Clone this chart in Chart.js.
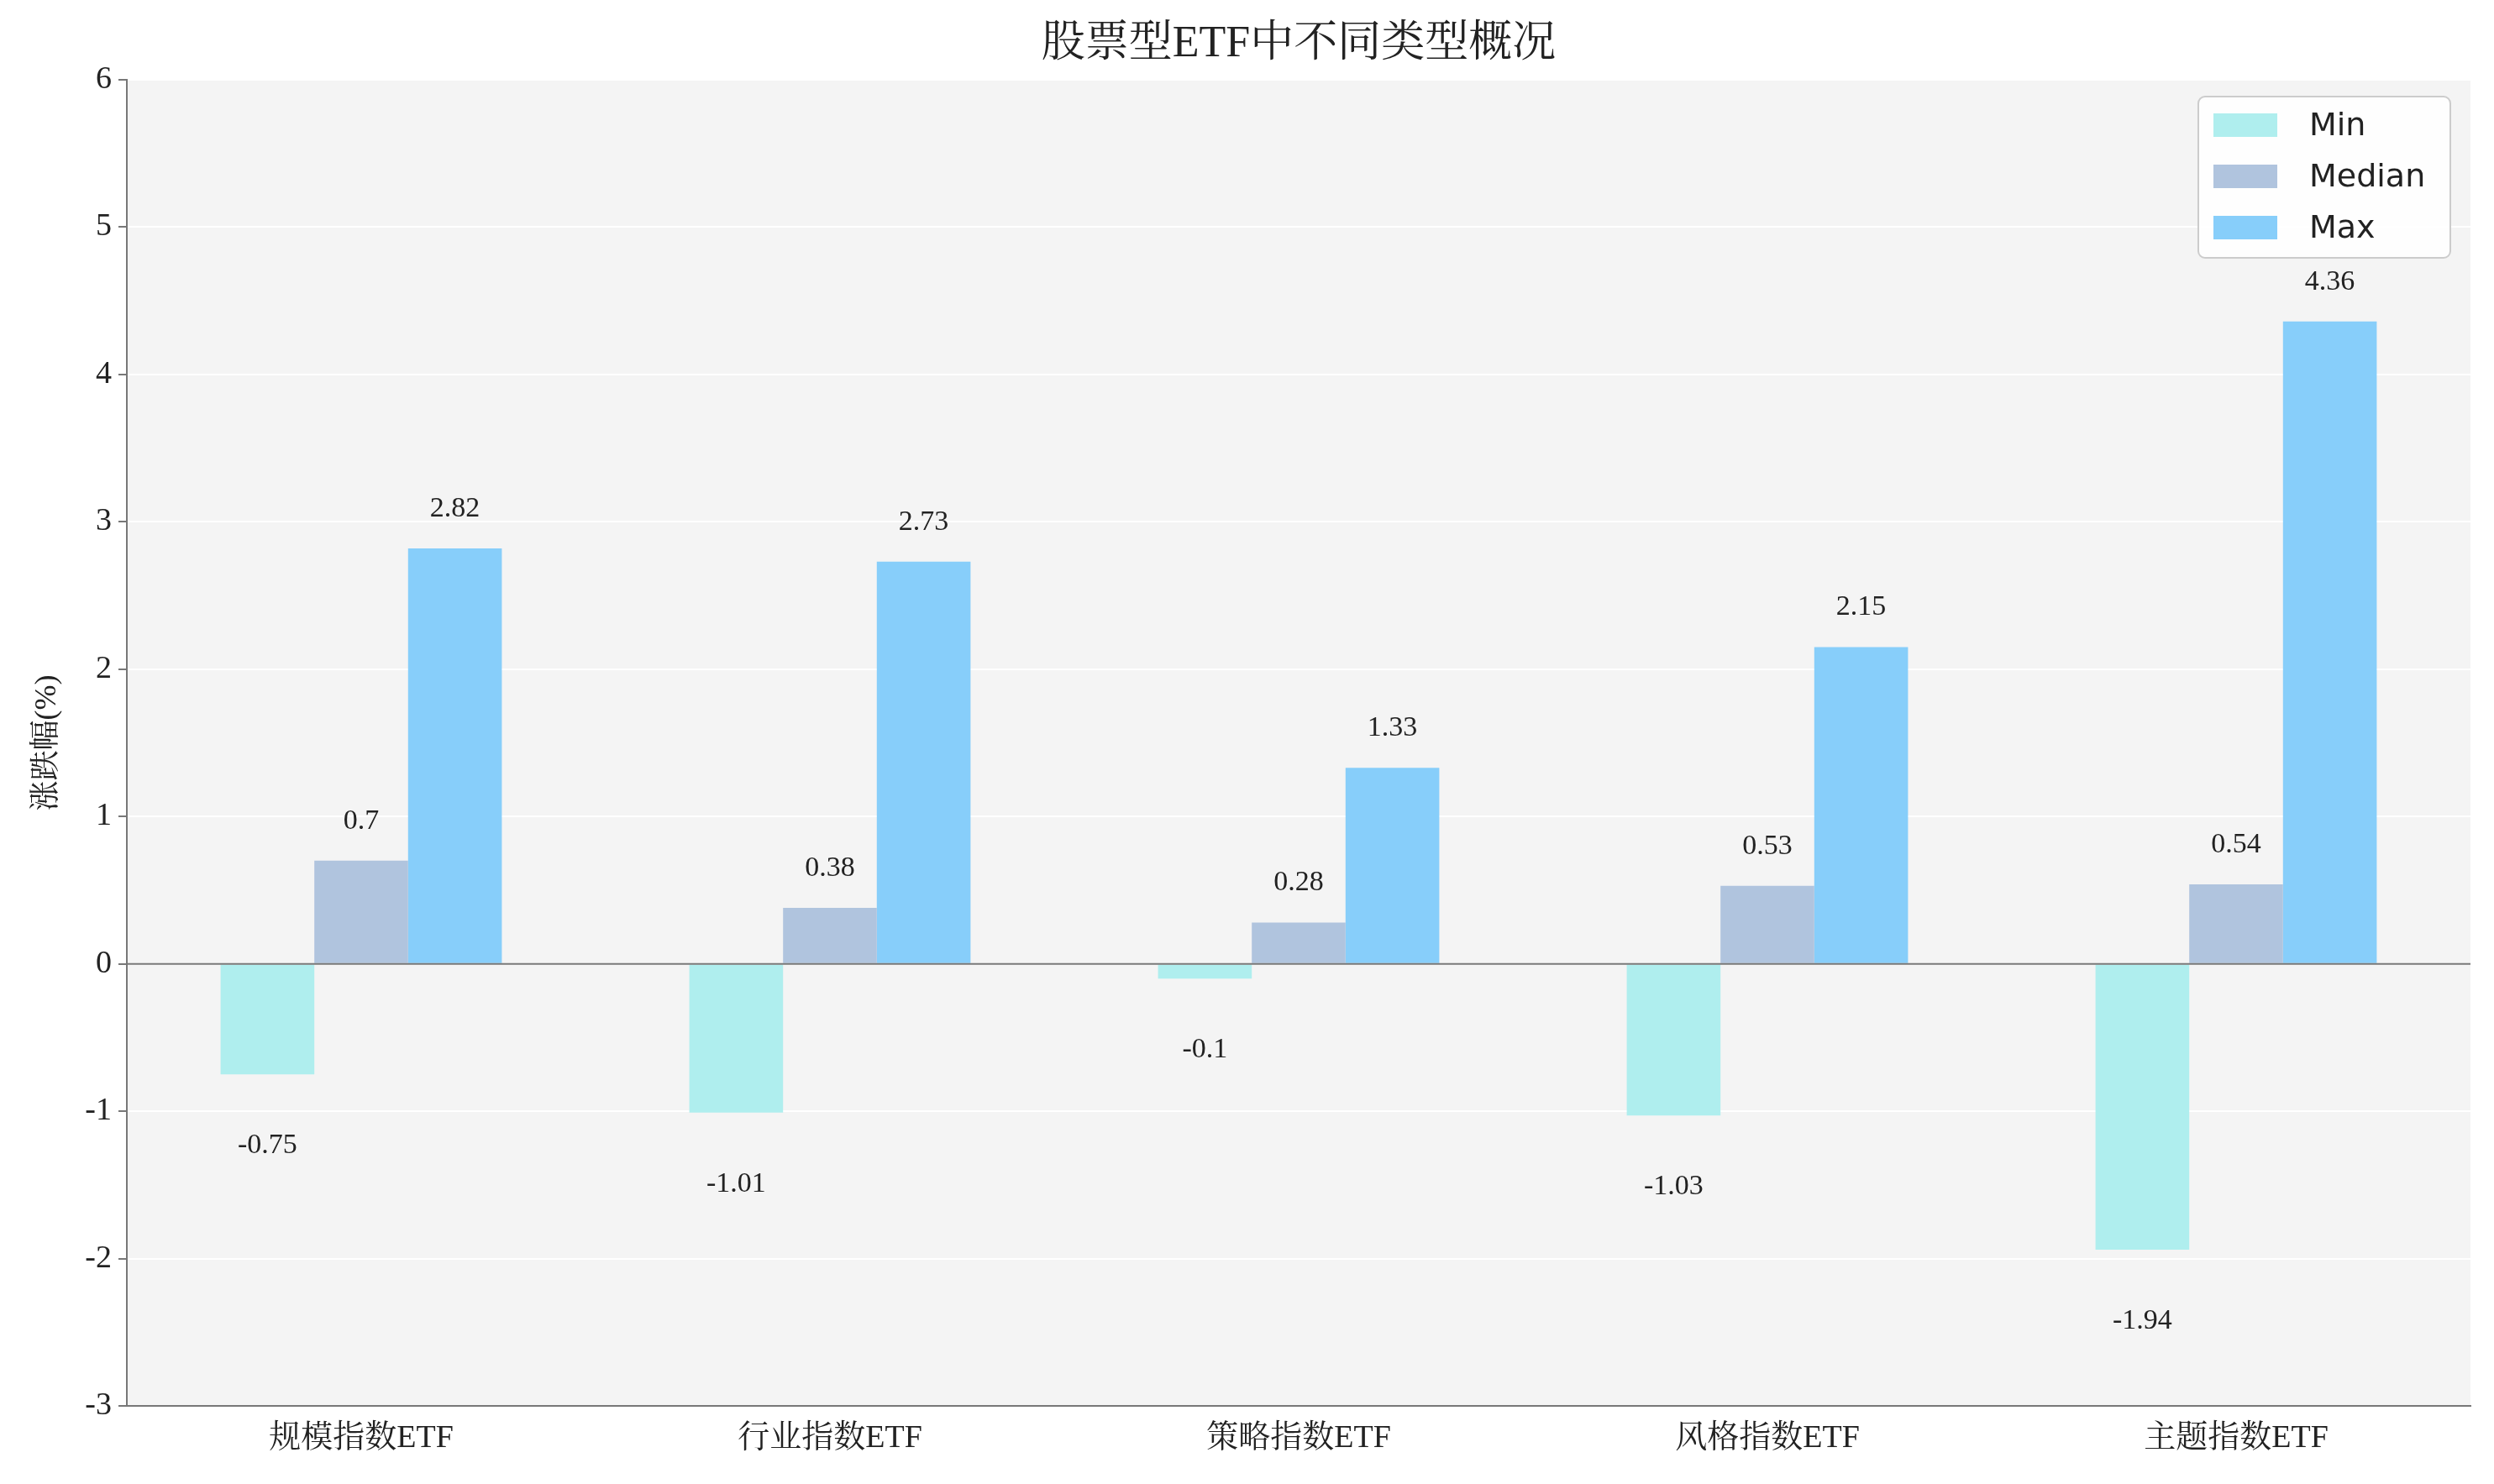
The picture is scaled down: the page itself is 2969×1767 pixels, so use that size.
<!DOCTYPE html>
<html><head><meta charset="utf-8">
<script src="https://cdn.jsdelivr.net/npm/chart.js@4"></script>
<style>body{margin:0;background:#fff}</style></head>
<body><canvas id="c" width="2969" height="1767"></canvas>
<script>
const categories=["规模指数ETF","行业指数ETF","策略指数ETF","风格指数ETF","主题指数ETF"];
const minVals=[-0.75,-1.01,-0.1,-1.03,-1.94];
const medianVals=[0.7,0.38,0.28,0.53,0.54];
const maxVals=[2.82,2.73,1.33,2.15,4.36];
const seriesNames=["Min","Median","Max"];
const colors=["#afeeee","#b0c4de","#87cefa"];
const FONT="'Liberation Serif','DejaVu Serif','Noto Serif CJK SC','Noto Sans CJK SC',serif";
const plug={id:'p',
beforeDraw(ch){const {ctx,chartArea:a}=ch;ctx.save();ctx.fillStyle='#fff';ctx.fillRect(0,0,ch.width,ch.height);ctx.fillStyle='#f4f4f4';ctx.fillRect(a.left,a.top,a.right-a.left,a.bottom-a.top);ctx.restore();},
afterDatasetsDraw(ch){const {ctx,chartArea:a,scales}=ch;ctx.save();
const y0=scales.y.getPixelForValue(0);ctx.strokeStyle='#777';ctx.lineWidth=2;ctx.beginPath();ctx.moveTo(a.left,y0);ctx.lineTo(a.right,y0);ctx.stroke();
ctx.fillStyle='#222';ctx.font='34px '+FONT;ctx.textAlign='center';ctx.textBaseline='middle';
ch.data.datasets.forEach((ds,i)=>{ch.getDatasetMeta(i).data.forEach((b,j)=>{const v=ds.data[j];const y=v>=0?b.y-47:b.y+85;ctx.fillText(String(v),b.x,y);});});
ctx.font='52px '+FONT;ctx.fillText('股票型ETF中不同类型概况',(a.left+a.right)/2,53);
ctx.save();ctx.translate(57,(a.top+a.bottom)/2);ctx.rotate(-Math.PI/2);ctx.font='36px '+FONT;ctx.fillText('涨跌幅(%)',0,0);ctx.restore();
const lx=2617,ly=115,lw=300,lh=192;ctx.fillStyle='rgba(255,255,255,0.85)';ctx.strokeStyle='#ccc';ctx.lineWidth=2;
ctx.beginPath();ctx.roundRect(lx,ly,lw,lh,8);ctx.fill();ctx.stroke();
ctx.font="38px 'DejaVu Sans',sans-serif";ctx.textAlign='left';
seriesNames.forEach((n,i)=>{const yy=ly+34+i*61;ctx.fillStyle=colors[i];ctx.fillRect(lx+18,yy-14,76,28);ctx.fillStyle='#222';ctx.fillText(n,lx+132,yy+2);});
ctx.restore();}};
new Chart(document.getElementById('c'),{type:'bar',
data:{labels:categories,datasets:[minVals,medianVals,maxVals].map((d,i)=>({label:seriesNames[i],data:d,backgroundColor:colors[i],barPercentage:1,categoryPercentage:0.6}))},
options:{responsive:false,devicePixelRatio:1,animation:false,layout:{padding:{top:95,right:28,left:0,bottom:0}},
plugins:{legend:{display:false},title:{display:false},tooltip:{enabled:false}},
scales:{x:{afterFit(s){s.height=93},grid:{display:false,drawTicks:true},border:{color:'#777',width:2},ticks:{color:'#222',font:{size:38,family:FONT},padding:8}},
y:{min:-3,max:6,afterFit(s){s.width=151},ticks:{stepSize:1,color:'#222',font:{size:38,family:FONT},padding:8},grid:{color:'#ffffff',lineWidth:2,tickColor:'#777',tickLength:10},border:{color:'#777',width:2}}}},
plugins:[plug]});
</script></body></html>
